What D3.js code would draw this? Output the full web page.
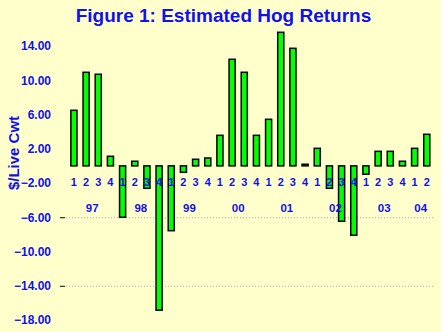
<!DOCTYPE html>
<html><head><meta charset="utf-8">
<script src="https://cdn.jsdelivr.net/npm/d3@7"></script>
<style>
html,body{margin:0;padding:0;background:#FFFFCC;}
svg{display:block;}
text{font-family:"Liberation Sans",Arial,sans-serif;font-weight:bold;}
</style></head>
<body>
<script>
const years = ["97","97","97","97","98","98","98","98","99","99","99","99","00","00","00","00","01","01","01","01","02","02","02","02","03","03","03","03","04","04"];
const quarters = [1,2,3,4,1,2,3,4,1,2,3,4,1,2,3,4,1,2,3,4,1,2,3,4,1,2,3,4,1,2];
const values = [6.49,10.93,10.70,1.12,-6.0,0.54,-2.62,-16.86,-7.57,-0.75,0.77,0.92,3.57,12.45,10.93,3.57,5.44,15.6,13.73,0.19,2.05,-2.62,-6.47,-8.1,-0.98,1.7,1.7,0.54,2.05,3.69];
const yTicks = [14,10,6,2,-2,-6,-10,-14,-18];
const gridTicks = [-6,-14];

const W = 441, H = 332;
const blue = "#1010EE";
const svg = d3.select("body").append("svg").attr("width", W).attr("height", H);
svg.append("rect").attr("width", W).attr("height", H).attr("fill", "#FFFFCC");

const idx = values.map((d,i)=>i);
const x = d3.scaleBand().domain(idx).range([64.8, 435.9]).padding(0.5);
const y = d3.scaleLinear().domain([-18, 14]).range([320, 46]);

// title
svg.append("text").attr("x", 223.5).attr("y", 22).attr("text-anchor","middle")
  .attr("font-size", 19).attr("fill", blue).text("Figure 1: Estimated Hog Returns");

// y title
svg.append("text").attr("transform", "translate(19,153) rotate(-90)").attr("text-anchor","middle")
  .attr("font-size", 15).attr("fill", blue).text("$/Live Cwt");

// gridlines
svg.selectAll("line.grid").data(gridTicks).enter().append("line")
  .attr("x1", 66).attr("x2", 433).attr("y1", d=>y(d)+0.5).attr("y2", d=>y(d)+0.5)
  .attr("stroke", "#A8A8A8").attr("stroke-width", 1).attr("stroke-dasharray", "1,2");
svg.selectAll("line.tk").data(gridTicks).enter().append("line")
  .attr("x1", 60).attr("x2", 65).attr("y1", d=>y(d)+0.5).attr("y2", d=>y(d)+0.5)
  .attr("stroke", "#000").attr("stroke-width", 1);

// y axis labels
const yAxis = d3.axisLeft(y).tickValues(yTicks).tickSize(0).tickPadding(0).tickFormat(d3.format(".2f"));
const gy = svg.append("g").attr("transform", "translate(51,0)").call(yAxis);
gy.select(".domain").remove();
gy.selectAll("text").attr("font-size", 12).attr("fill", blue)
  .attr("font-family", "'Liberation Sans',Arial,sans-serif").attr("font-weight","bold");

// bars
svg.selectAll("rect.bar").data(values).enter().append("rect")
  .attr("x", (d,i)=>x(i)).attr("width", x.bandwidth())
  .attr("y", d=>y(Math.max(0,d))).attr("height", d=>Math.abs(y(d)-y(0)))
  .attr("fill", "#00FF00").attr("stroke", "#000").attr("stroke-width", 1.5);

// quarter labels
const xAxis = d3.axisBottom(x).tickSize(0).tickPadding(0).tickFormat(i=>quarters[i]);
const gx = svg.append("g").attr("transform", "translate(0,178.5)").call(xAxis);
gx.select(".domain").remove();
gx.selectAll("text").attr("font-size", 11).attr("fill", blue)
  .attr("font-family", "'Liberation Sans',Arial,sans-serif").attr("font-weight","bold");

// year labels
const yearGroups = d3.groups(idx, i=>years[i]);
svg.selectAll("text.yr").data(yearGroups).enter().append("text")
  .attr("x", g=>d3.mean(g[1], i=>x(i)+x.bandwidth()/2))
  .attr("y", 212).attr("text-anchor","middle").attr("font-size", 11.5).attr("fill", blue)
  .text(g=>g[0]);
</script>
</body></html>
